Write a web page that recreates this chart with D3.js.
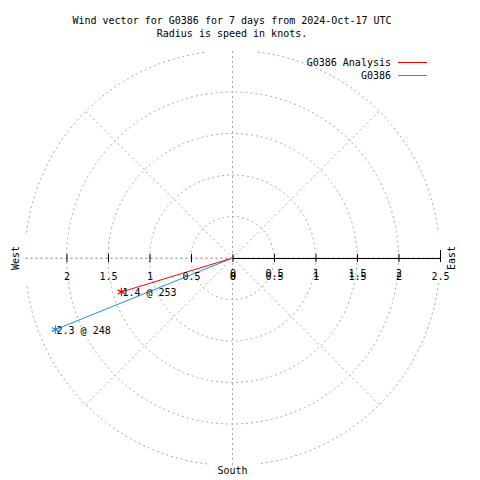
<!DOCTYPE html>
<html><head><meta charset="utf-8">
<script src="https://cdn.jsdelivr.net/npm/d3@7"></script>
<style>
body{margin:0;background:#fff;}
text{font-family:"DejaVu Sans Mono",monospace;font-size:10px;fill:#000;}
</style></head>
<body><svg id="c" width="480" height="480"></svg>
<script>
const titleLines = ["Wind vector for G0386 for 7 days from 2024-Oct-17 UTC", "Radius is speed in knots."];
const seriesNames = ["G0386 Analysis", "G0386"];
const seriesColors = ["#ff0000", "#1e8cf0"];
const speeds = [1.4, 2.3];        // knots
const directions = [253, 248];    // degrees (bearing)
const ringValues = [0.5, 1, 1.5, 2, 2.5];
const tickValues = [0, 0.5, 1, 1.5, 2, 2.5];
const leftTickValues = [0, 0.5, 1, 1.5, 2];
const compassLabels = ["West", "East", "South"];

const svg = d3.select("#c");
const cx = 232.5, cy = 258, R = 207.5;
const r = d3.scaleLinear().domain([0, 2.5]).range([0, R]);
const xR = d3.scaleLinear().domain([0, 2.5]).range([cx, cx + R]);
const xL = d3.scaleLinear().domain([0, 2.5]).range([cx, cx - R]);
const grid = "#a8a8a8";

// title
svg.selectAll("text.title").data(titleLines).enter().append("text")
  .attr("x", 232).attr("y", (d, i) => 24 + i * 13).attr("text-anchor", "middle").text(d => d);

const g = svg.append("g").attr("transform", `translate(${cx},${cy})`);

// rings
ringValues.forEach(v => {
  if (v < 2.5) {
    g.append("circle").attr("r", r(v)).attr("fill", "none").attr("stroke", grid)
      .attr("stroke-dasharray", "2,3");
  } else {
    const gap = 7 * Math.PI / 180;
    for (let k = 0; k < 4; k++) {
      const a0 = k * Math.PI / 2 + gap, a1 = (k + 1) * Math.PI / 2 - gap;
      const pts = d3.range(0, 41).map(j => {
        const a = a0 + (a1 - a0) * j / 40;
        return [r(v) * Math.sin(a), -r(v) * Math.cos(a)];
      });
      g.append("path").attr("d", d3.line()(pts)).attr("fill", "none").attr("stroke", grid)
        .attr("stroke-dasharray", "2,3");
    }
  }
});

// spokes
d3.range(0, 360, 45).forEach(a => {
  const t = a * Math.PI / 180;
  g.append("line").attr("x1", 0).attr("y1", 0)
    .attr("x2", r(2.5) * Math.sin(t)).attr("y2", -r(2.5) * Math.cos(t))
    .attr("stroke", grid).attr("stroke-dasharray", "2,3");
});

// right axis (solid) using d3 axis
const axR = svg.append("g").attr("transform", `translate(0,${cy})`)
  .call(d3.axisBottom(xR).tickValues(tickValues).tickSize(0).tickFormat(d3.format("")));
axR.select(".domain").attr("stroke", "#000").attr("d", `M${cx},0.5H${cx + R}`);
axR.selectAll(".tick text").remove();
axR.selectAll(".tick").append("line").attr("y1", d => d === 2.5 ? -8 : -4).attr("y2", 4).attr("stroke", "#000");
axR.selectAll(".tick").filter(d => d < 2.5).append("text").attr("y", 19).attr("text-anchor", "middle")
  .style("font-family", "DejaVu Sans Mono").style("font-size", "10px").text(d => d);
axR.selectAll(".tick").append("text").attr("y", 22).attr("text-anchor", "middle")
  .style("font-family", "DejaVu Sans Mono").style("font-size", "10px").text(d => d);

// left axis (dashed line with ticks)
const axL = svg.append("g").attr("transform", `translate(0,${cy})`)
  .call(d3.axisBottom(xL).tickValues(leftTickValues).tickSize(0).tickFormat(d3.format("")));
axL.select(".domain").attr("stroke", grid).attr("stroke-dasharray", "2,3").attr("d", `M${cx},0.5H${cx - R}`);
axL.selectAll(".tick text").remove();
axL.selectAll(".tick").filter(d => d > 0).append("line").attr("y1", -4).attr("y2", 4).attr("stroke", "#000");
axL.selectAll(".tick").append("text").attr("y", 22).attr("text-anchor", "middle")
  .style("font-family", "DejaVu Sans Mono").style("font-size", "10px").text(d => d);

// compass labels
svg.append("text").attr("transform", `translate(19,${cy}) rotate(-90)`).attr("text-anchor", "middle").text(compassLabels[0]);
svg.append("text").attr("transform", `translate(455,${cy}) rotate(-90)`).attr("text-anchor", "middle").text(compassLabels[1]);
svg.append("text").attr("x", cx).attr("y", 474).attr("text-anchor", "middle").text(compassLabels[2]);

// vectors (draw blue first, red on top)
const star = d3.symbol().type(d3.symbolAsterisk).size(50);
[1, 0].forEach(i => {
  const t = directions[i] * Math.PI / 180;
  const px = r(speeds[i]) * Math.sin(t), py = -r(speeds[i]) * Math.cos(t);
  g.append("line").attr("x1", 0).attr("y1", 0).attr("x2", px).attr("y2", py)
    .attr("stroke", seriesColors[i]).attr("stroke-width", 1);
  g.append("path").attr("d", star).attr("transform", `translate(${px},${py})`)
    .attr("stroke", seriesColors[i]).attr("stroke-width", 1.2).attr("fill", "none");
  g.append("text").attr("x", px + 1).attr("y", py + 4).text(`${speeds[i]} @ ${directions[i]}`);
});

// legend
seriesNames.forEach((n, i) => {
  svg.append("text").attr("x", 391).attr("y", 66 + i * 13).attr("text-anchor", "end").text(n);
  svg.append("line").attr("x1", 398).attr("x2", 427).attr("y1", 62.5 + i * 13).attr("y2", 62.5 + i * 13)
    .attr("stroke", seriesColors[i]).attr("stroke-width", 1);
});
</script></body></html>
